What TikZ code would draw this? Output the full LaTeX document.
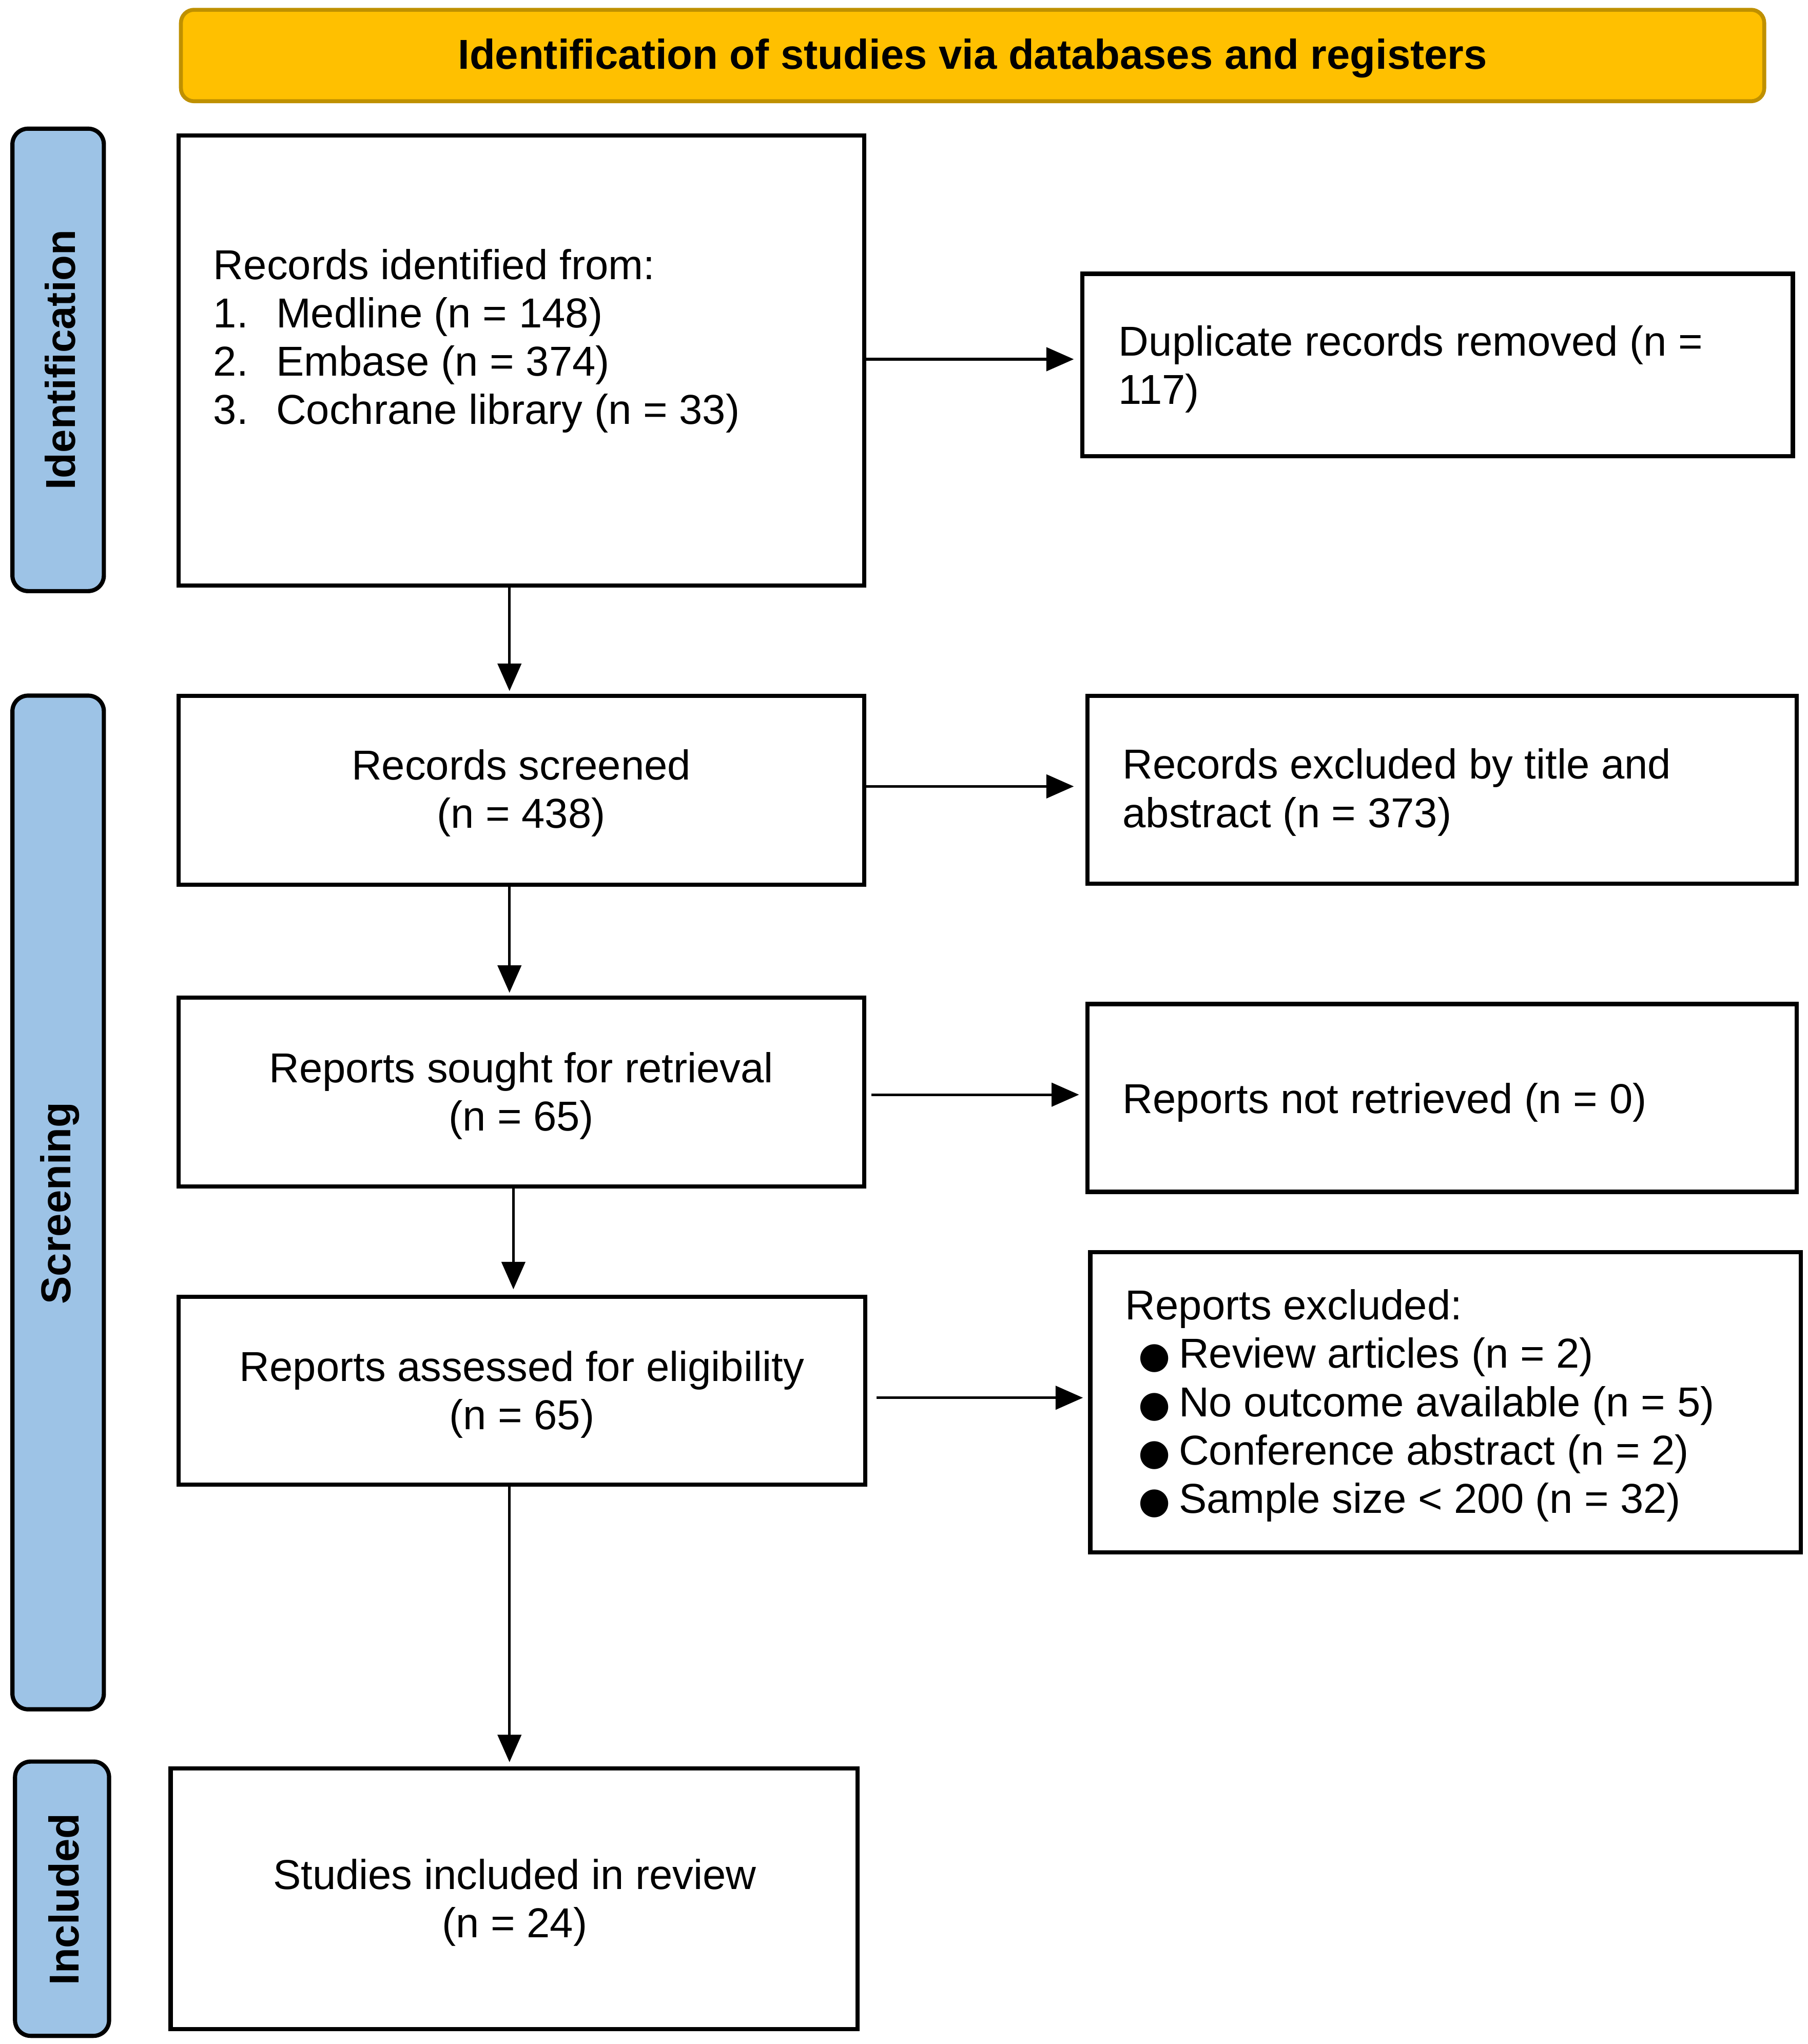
\documentclass[tikz,border=0pt]{standalone}
\usepackage{fontspec}
\setmainfont{Liberation Sans}
\newfontfamily\dejavu{DejaVu Sans}
\usetikzlibrary{arrows.meta,positioning}
\definecolor{bannerfill}{HTML}{FFC000}
\definecolor{bannerline}{HTML}{BF9000}
\definecolor{sidefill}{HTML}{9DC3E6}
\newcommand\blt{\makebox[20.5pt][l]{\hspace{5pt}{\dejavu\fontsize{14}{14}\selectfont ●}}}
\begin{document}
\begin{tikzpicture}[x=0.5pt,y=-0.5pt,
  every node/.style={font=\fontsize{16}{18.5}\selectfont, inner sep=0pt},
  pbox/.style={draw, line width=1.6pt, inner sep=0pt},
  sidebox/.style={draw, line width=1.6pt, fill=sidefill, rounded corners=6pt, inner sep=0pt},
  sidetext/.style={rotate=90, font=\fontsize{16}{18.5}\selectfont\bfseries},
  arr/.style={line width=1pt, -{Triangle[length=10.5pt,width=9pt]}},
  txt/.style={align=left, anchor=west},
  ctxt/.style={align=center}]
\useasboundingbox (0,0) rectangle (1384,1564.73);

% banner
\node[draw=bannerline, line width=1.5pt, fill=bannerfill, rounded corners=5pt,
  minimum width=606pt, minimum height=35pt] (banner) at (744.5,42.5) {};
\node[font=\fontsize{16}{18.5}\selectfont\bfseries] (bannertxt) at (744.5,44.5) {Identification of studies via databases and registers};

% side labels
\node[sidebox, minimum width=35pt, minimum height=177pt] (sideid) at (44.5,275.5) {};
\node[sidetext] (sideidtxt) at (46,275.5) {Identification};
\node[sidebox, minimum width=35pt, minimum height=388pt] (sidescr) at (44.5,920.5) {};
\node[sidetext] (sidescrtxt) at (46,921) {Screening};
\node[sidebox, minimum width=36pt, minimum height=105pt] (sideinc) at (47.5,1453.5) {};
\node[sidetext] (sideinctxt) at (49,1454) {Included};

% boxes
\node[pbox, minimum width=262.4pt, minimum height=172.4pt] (b1) at (399,276) {};
\node[pbox, minimum width=271.9pt, minimum height=69.9pt] (dup) at (1100.5,279.5) {};
\node[pbox, minimum width=262.4pt, minimum height=72.4pt] (scr) at (399,605) {};
\node[pbox, minimum width=271.4pt, minimum height=71.9pt] (exc1) at (1104,604.5) {};
\node[pbox, minimum width=262.4pt, minimum height=72.4pt] (sought) at (399,836) {};
\node[pbox, minimum width=271.4pt, minimum height=71.9pt] (notret) at (1104,840.5) {};
\node[pbox, minimum width=262.9pt, minimum height=71.9pt] (assess) at (399.5,1064.5) {};
\node[pbox, minimum width=271.9pt, minimum height=114.9pt] (exc2) at (1106.5,1073.5) {};
\node[pbox, minimum width=262.9pt, minimum height=99.9pt] (incl) at (393.5,1453.5) {};

% texts
\node[txt] (t1) at (163,261) {Records identified from:\\
\makebox[24pt][l]{1.}Medline (n = 148)\\
\makebox[24pt][l]{2.}Embase (n = 374)\\
\makebox[24pt][l]{3.}Cochrane library (n = 33)};
\node[txt] (tdup) at (856,282.5) {Duplicate records removed (n =\\117)};
\node[ctxt] (tscr) at (399,607) {Records screened\\(n = 438)};
\node[txt] (texc1) at (859,606.5) {Records excluded by title and\\abstract (n = 373)};
\node[ctxt] (tsought) at (399,839) {Reports sought for retrieval\\(n = 65)};
\node[txt] (tnotret) at (859,844) {Reports not retrieved (n = 0)};
\node[ctxt] (tassess) at (399.5,1067.5) {Reports assessed for eligibility\\(n = 65)};
\node[txt] (texc2) at (861,1076) {Reports excluded:\\
\blt Review articles (n = 2)\\
\blt No outcome available (n = 5)\\
\blt Conference abstract (n = 2)\\
\blt Sample size < 200 (n = 32)};
\node[ctxt] (tincl) at (394,1456.5) {Studies included in review\\(n = 24)};

% arrows
\draw[arr, shorten >=2.5pt] ([yshift=0.5pt]b1.east) -- ([yshift=0.5pt]b1.east -| dup.west);
\draw[arr, shorten >=1pt] ([xshift=-4.5pt]b1.south) -- ([xshift=-4.5pt]b1.south |- scr.north);
\draw[arr, shorten >=4.5pt] ([yshift=1.5pt]scr.east) -- ([yshift=1.5pt]scr.east -| exc1.west);
\draw[arr, shorten >=1pt] ([xshift=-4.5pt]scr.south) -- ([xshift=-4.5pt]scr.south |- sought.north);
\draw[arr, shorten <=2pt, shorten >=2.5pt] ([yshift=-1pt]sought.east) -- ([yshift=-1pt]sought.east -| notret.west);
\draw[arr, shorten >=2pt] ([xshift=-3pt]sought.south) -- ([xshift=-3pt]sought.south |- assess.north);
\draw[arr, shorten <=3.5pt, shorten >=2pt] ([yshift=-2.75pt]assess.east) -- ([yshift=-2.75pt]assess.east -| exc2.west);
\draw[arr, shorten >=1.5pt] ([xshift=-4.75pt]assess.south) -- ([xshift=-4.75pt]assess.south |- incl.north);
\end{tikzpicture}
\end{document}
